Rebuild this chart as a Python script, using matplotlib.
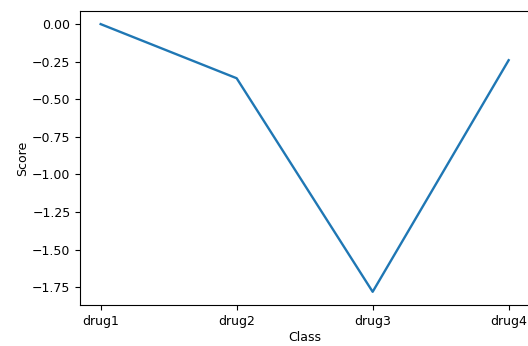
import matplotlib
matplotlib.use("Agg")
import matplotlib.pyplot as plt

classes = ["drug1", "drug2", "drug3", "drug4"]
scores = [0.0, -0.36, -1.78, -0.24]

plt.rcParams["font.size"] = 9

fig = plt.figure(figsize=(5.28, 3.46), dpi=100)
ax = fig.add_axes([0.152, 0.118, 0.85, 0.851])
ax.plot(classes, scores, color="#1f77b4", linewidth=1.7)
ax.set_yticks([0.0, -0.25, -0.5, -0.75, -1.0, -1.25, -1.5, -1.75])
ax.set_xlabel("Class", labelpad=2)
ax.set_ylabel("Score", labelpad=2)

fig.savefig("out.png", dpi=100)
